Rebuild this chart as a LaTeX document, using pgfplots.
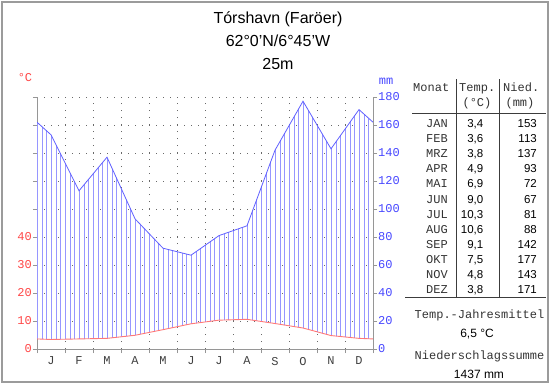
\documentclass[border=0pt]{standalone}
\usepackage{fontspec}
\setmainfont{Liberation Sans}
\newfontfamily\mono{Liberation Mono}
\usepackage{pgfplots}
\pgfplotsset{compat=1.18}
\usepackage{pgfplotstable}
\usepgfplotslibrary{fillbetween}
\usetikzlibrary{patterns.meta}

\definecolor{hatch}{RGB}{150,150,255}
\definecolor{pline}{RGB}{95,95,255}
\definecolor{tline}{RGB}{255,120,120}
\definecolor{tred}{RGB}{255,70,70}
\definecolor{pblue}{RGB}{70,70,255}
\definecolor{axgray}{RGB}{150,150,150}
\definecolor{gridgray}{RGB}{105,105,105}
\definecolor{framegray}{RGB}{155,155,155}
\definecolor{tabline}{RGB}{60,60,60}

% month centre positions; edge values are the Dec/Jan means shown at the borders
\pgfplotstableread{
x T P
0 3.6 162
0.5 3.4 153
1.5 3.6 113
2.5 3.8 137
3.5 4.9 93
4.5 6.9 72
5.5 9.0 67
6.5 10.3 81
7.5 10.6 88
8.5 9.1 142
9.5 7.5 177
10.5 4.8 143
11.5 3.8 171
12 3.6 162
}\climate

\newcommand{\tickfont}{\mono\fontsize{12}{14}\selectfont}
\newcommand{\tabfont}{\mono\fontsize{12}{14}\selectfont}
\newcommand{\numfont}{\fontsize{11.5}{13}\selectfont}

\begin{document}
\begin{tikzpicture}[x=1pt,y=1pt]
\begin{axis}[
  at={(37pt,35pt)}, anchor=south west,
  scale only axis, width=336pt, height=252pt,
  xmin=0, xmax=12, ymin=0, ymax=180,
  set layers,
  axis lines*=left,
  axis line style={axgray, line width=1pt},
  tick align=outside, major tick length=4pt,
  tick style={axgray, line width=0.8pt},
  xtick={0,1,...,12}, xticklabels={,,,,,,,,,,,,,},
  extra x ticks={0.5,1.5,2.5,3.5,4.5,5.5,6.5,7.5,8.5,9.5,10.5,11.5},
  extra x tick labels={J,F,M,A,M,J,J,A,S,O,N,D},
  extra x tick style={major tick length=0pt, grid=none,
    tick label style={font=\tickfont, text=black!75, yshift=-4.5pt}},
  ytick={0,20,...,180}, yticklabels={0,10,20,30,40,{},{},{},{},{}},
  y tick label style={font=\tickfont, text=tred, inner sep=1pt},
  grid=major,
  major grid style={gridgray, line width=0.8pt, dash pattern=on 0.8pt off 6.2pt},
]
\addplot[name path=P, pline, line width=0.8pt] table[x=x, y=P]{\climate};
\addplot[name path=T, tline, line width=0.9pt] table[x=x, y expr=2*\thisrow{T}]{\climate};
\addplot[pattern={Lines[angle=90, distance=4.667pt, line width=0.8pt]}, pattern color=hatch, draw=none] fill between[of=P and T];
\end{axis}
\begin{axis}[
  at={(37pt,35pt)}, anchor=south west,
  scale only axis, width=336pt, height=252pt,
  xmin=0, xmax=12, ymin=0, ymax=180,
  axis x line=none, axis y line*=right,
  axis line style={axgray, line width=1pt},
  tick align=outside, major tick length=4pt,
  tick style={axgray, line width=0.8pt},
  xtick=\empty,
  ytick={0,20,...,180},
  /pgf/number format/assume math mode=true,
  y tick label style={font=\tickfont, text=pblue, inner sep=1pt},
]
\end{axis}

% axis unit labels
\node[text=tred, font=\tickfont] at (25,306) {°C};
\node[text=pblue, font=\tickfont] at (386,303) {mm};

% title
\node[anchor=base, font=\fontsize{16}{19}\selectfont] at (278,360) {Tórshavn (Faröer)};
\node[anchor=base, font=\fontsize{16}{19}\selectfont] at (278,337.5) {62°0'N/6°45'W};
\node[anchor=base, font=\fontsize{16}{19}\selectfont] at (278,315) {25m};

% table
\draw[tabline, line width=0.9pt] (456.5,305) -- (456.5,87);
\draw[tabline, line width=0.9pt] (499,305) -- (499,87);
\draw[tabline, line width=0.9pt] (412,270.5) -- (546,270.5);
\draw[tabline, line width=0.9pt] (405,87) -- (546,87);
\begin{scope}[every node/.style={inner sep=0pt, text=black!80}]
\node[anchor=base west, font=\tabfont] at (413,292) {Monat};
\node[anchor=base west, font=\tabfont] at (459,292) {Temp.};
\node[anchor=base west, font=\tabfont] at (503,292) {Nied.};
\node[anchor=base, font=\tabfont] at (477,277) {(°C)};
\node[anchor=base, font=\tabfont] at (520,277) {(mm)};
\foreach \m/\t/\p [count=\i from 0] in {JAN/3{,}4/153, FEB/3{,}6/113, MRZ/3{,}8/137, APR/4{,}9/93, MAI/6{,}9/72, JUN/9{,}0/67, JUL/10{,}3/81, AUG/10{,}6/88, SEP/9{,}1/142, OKT/7{,}5/177, NOV/4{,}8/143, DEZ/3{,}8/171}{
  \pgfmathsetmacro{\yy}{384-127.3-15.15*\i}
  \node[anchor=base east, font=\tabfont] at (448,\yy) {\m};
  \node[anchor=base east, font=\numfont, text=black] at (483.5,\yy) {\t};
  \node[anchor=base east, font=\numfont, text=black] at (537,\yy) {\p};
}
\node[anchor=base west, font=\tabfont] at (414.5,66) {Temp.-Jahresmittel};
\node[anchor=base, font=\fontsize{12}{14}\selectfont, text=black] at (477,47) {6,5 °C};
\node[anchor=base west, font=\tabfont] at (414.5,25) {Niederschlagssumme};
\node[anchor=base, font=\fontsize{12}{14}\selectfont, text=black] at (479,6) {1437 mm};
\end{scope}

% outer frame
\draw[framegray, line width=2pt] (2,2) rectangle (548,382);
\pgfresetboundingbox
\path (0,0) rectangle (550,384);
\end{tikzpicture}
\end{document}
